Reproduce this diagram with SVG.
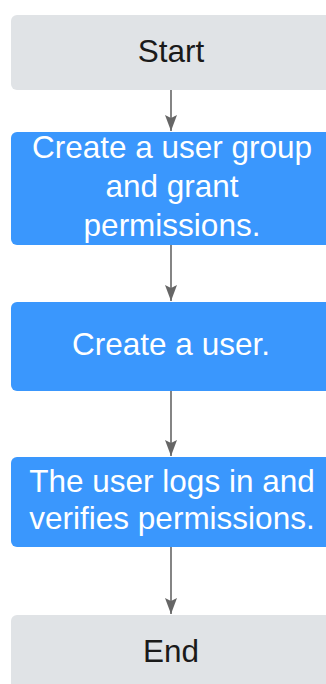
<svg xmlns="http://www.w3.org/2000/svg" width="326" height="684" viewBox="0 0 326 684">
<style>
.term{fill:#e0e3e6}
.step{fill:#3a97fd}
text{font-family:"Liberation Sans",Arial,sans-serif;font-size:31.5px;text-anchor:middle}
.dark{fill:#1a1a1a}
.light{fill:#ffffff}
.conn{stroke:#666666;stroke-width:1.6;fill:none}
</style>
<defs>
<marker id="ah" markerWidth="16" markerHeight="12" refX="16" refY="6" orient="auto" markerUnits="userSpaceOnUse" viewBox="0 0 16 12">
<path d="M0,0 L16,6 L0,12 L3,6 Z" fill="#666666"/>
</marker>
</defs>
<g id="connectors">
<line class="conn" x1="171" y1="90" x2="171" y2="131" marker-end="url(#ah)"/>
<line class="conn" x1="171" y1="245" x2="171" y2="301" marker-end="url(#ah)"/>
<line class="conn" x1="171" y1="391" x2="171" y2="456" marker-end="url(#ah)"/>
<line class="conn" x1="171" y1="547" x2="171" y2="614" marker-end="url(#ah)"/>
</g>
<g id="start">
<rect class="term" x="11" y="15" width="320" height="75" rx="6"/>
<text class="dark" x="171" y="62">Start</text>
</g>
<g id="create-group">
<rect class="step" x="11" y="132" width="320" height="113" rx="6"/>
<text class="light" x="172" y="158">Create a user group</text>
<text class="light" x="172" y="197">and grant</text>
<text class="light" x="172" y="236">permissions.</text>
</g>
<g id="create-user">
<rect class="step" x="11" y="302" width="320" height="89" rx="6"/>
<text class="light" x="171" y="355">Create a user.</text>
</g>
<g id="verify">
<rect class="step" x="11" y="457" width="320" height="90" rx="6"/>
<text class="light" x="172" y="492">The user logs in and</text>
<text class="light" x="172" y="529">verifies permissions.</text>
</g>
<g id="end">
<rect class="term" x="11" y="615" width="320" height="80" rx="6"/>
<text class="dark" x="171" y="662">End</text>
</g>
</svg>
